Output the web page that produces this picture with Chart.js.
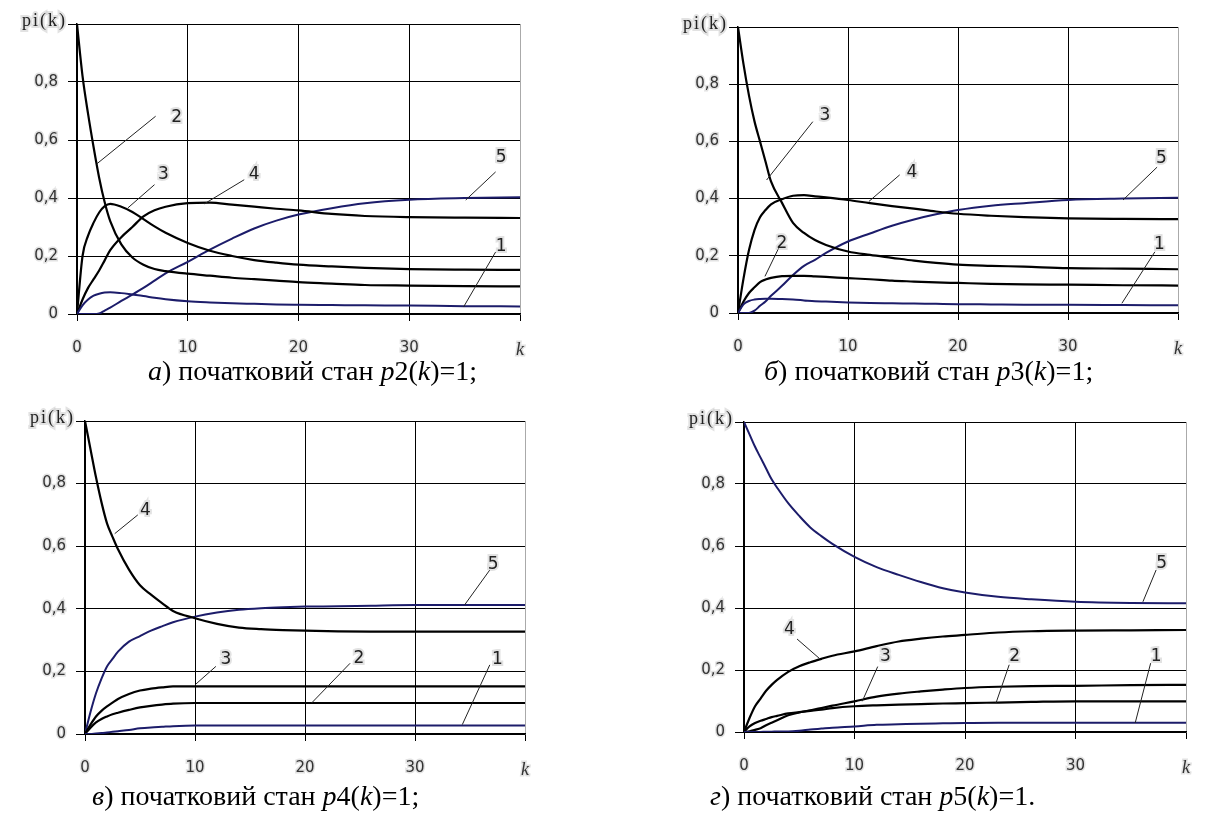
<!DOCTYPE html>
<html>
<head>
<meta charset="utf-8">
<script src="https://cdn.jsdelivr.net/npm/chart.js@4.4.1/dist/chart.umd.min.js"></script>
<style>
  body { margin: 0; background: #fff; width: 1208px; height: 823px; overflow: hidden; position: relative; }
  canvas { position: absolute; }
  .cap { position: absolute; font-family: "Liberation Serif", "Times New Roman", serif; font-size: 28px; line-height: 28px; white-space: nowrap; color: #000; }
  .cap i { font-style: italic; }
</style>
</head>
<body>
<canvas id="ca" width="560" height="365" style="left:0;top:0"></canvas>
<canvas id="cb" width="608" height="365" style="left:600px;top:0"></canvas>
<canvas id="cc" width="560" height="390" style="left:0;top:395px"></canvas>
<canvas id="cd" width="608" height="390" style="left:600px;top:395px"></canvas>

<div class="cap" style="left:148px;top:357px"><i>а</i>) початковий стан <i>p</i>2(<i>k</i>)=1;</div>
<div class="cap" style="left:764px;top:357px"><i>б</i>) початковий стан <i>p</i>3(<i>k</i>)=1;</div>
<div class="cap" style="left:92px;top:782px"><i>в</i>) початковий стан <i>p</i>4(<i>k</i>)=1;</div>
<div class="cap" style="left:710px;top:782px"><i>г</i>) початковий стан <i>p</i>5(<i>k</i>)=1.</div>

<script>
// step k (shared by all four panels)
const K = [0, 0.5, 1, 1.5, 2, 2.5, 3, 4, 5, 6, 7, 8, 10, 12, 14, 16, 18, 20, 23, 26, 30, 35, 40];

// а) p2(0)=1
const aP1 = [0, 0.03, 0.05, 0.063, 0.07, 0.074, 0.075, 0.072, 0.067, 0.062, 0.056, 0.051, 0.044, 0.04, 0.037, 0.035, 0.033, 0.032, 0.031, 0.03, 0.029, 0.027, 0.026];
const aP2 = [1, 0.82, 0.69, 0.575, 0.47, 0.385, 0.32, 0.24, 0.195, 0.17, 0.155, 0.148, 0.139, 0.132, 0.125, 0.12, 0.115, 0.11, 0.105, 0.1, 0.098, 0.096, 0.095];
const aP3 = [0, 0.2, 0.27, 0.315, 0.35, 0.372, 0.38, 0.37, 0.352, 0.327, 0.302, 0.28, 0.245, 0.218, 0.2, 0.186, 0.177, 0.17, 0.164, 0.159, 0.155, 0.153, 0.152];
const aP4 = [0, 0.05, 0.09, 0.12, 0.15, 0.185, 0.22, 0.265, 0.3, 0.337, 0.358, 0.37, 0.382, 0.384, 0.377, 0.37, 0.363, 0.357, 0.345, 0.338, 0.334, 0.332, 0.331];
const aP5 = [0, 0, 0, 0, 0.002, 0.012, 0.022, 0.045, 0.067, 0.09, 0.115, 0.14, 0.18, 0.222, 0.26, 0.295, 0.322, 0.343, 0.365, 0.382, 0.394, 0.4, 0.403];

// б) p3(0)=1
const bP1 = [0, 0.03, 0.042, 0.047, 0.049, 0.05, 0.05, 0.049, 0.047, 0.044, 0.041, 0.04, 0.037, 0.035, 0.034, 0.033, 0.032, 0.031, 0.03, 0.029, 0.029, 0.028, 0.027];
const bP2 = [0, 0.04, 0.07, 0.09, 0.108, 0.117, 0.123, 0.129, 0.13, 0.13, 0.128, 0.126, 0.122, 0.118, 0.113, 0.11, 0.107, 0.105, 0.102, 0.1, 0.099, 0.097, 0.096];
const bP3 = [1, 0.87, 0.76, 0.67, 0.6, 0.53, 0.46, 0.385, 0.315, 0.28, 0.255, 0.238, 0.215, 0.203, 0.193, 0.183, 0.175, 0.169, 0.165, 0.162, 0.157, 0.155, 0.153];
const bP4 = [0, 0.12, 0.22, 0.29, 0.335, 0.36, 0.38, 0.398, 0.41, 0.412, 0.408, 0.404, 0.395, 0.384, 0.374, 0.365, 0.355, 0.347, 0.34, 0.335, 0.331, 0.329, 0.328];
const bP5 = [0, 0, 0, 0.008, 0.025, 0.04, 0.06, 0.095, 0.133, 0.165, 0.186, 0.21, 0.25, 0.278, 0.305, 0.327, 0.345, 0.36, 0.375, 0.384, 0.395, 0.4, 0.403];

// в) p4(0)=1
const cP1 = [0, 0, 0.002, 0.003, 0.005, 0.007, 0.009, 0.013, 0.018, 0.021, 0.023, 0.025, 0.027, 0.027, 0.027, 0.027, 0.027, 0.027, 0.027, 0.027, 0.027, 0.027, 0.027];
const cP2 = [0, 0.02, 0.037, 0.048, 0.056, 0.063, 0.068, 0.077, 0.085, 0.09, 0.094, 0.097, 0.099, 0.099, 0.099, 0.099, 0.099, 0.099, 0.099, 0.099, 0.099, 0.099, 0.099];
const cP3 = [0, 0.03, 0.056, 0.074, 0.088, 0.1, 0.112, 0.128, 0.139, 0.145, 0.149, 0.152, 0.152, 0.152, 0.152, 0.152, 0.152, 0.152, 0.152, 0.152, 0.152, 0.152, 0.152];
const cP4 = [1, 0.91, 0.82, 0.74, 0.673, 0.63, 0.59, 0.525, 0.475, 0.445, 0.418, 0.393, 0.37, 0.352, 0.34, 0.335, 0.332, 0.33, 0.328, 0.327, 0.327, 0.327, 0.327];
const cP5 = [0, 0.07, 0.13, 0.177, 0.216, 0.24, 0.263, 0.295, 0.313, 0.33, 0.344, 0.357, 0.375, 0.388, 0.397, 0.402, 0.405, 0.407, 0.408, 0.41, 0.412, 0.412, 0.412];

// г) p5(0)=1
const dP1 = [0, 0, 0, 0, 0.001, 0.001, 0.002, 0.002, 0.004, 0.008, 0.011, 0.014, 0.018, 0.023, 0.025, 0.027, 0.028, 0.029, 0.03, 0.03, 0.03, 0.03, 0.03];
const dP2 = [0, 0.018, 0.029, 0.036, 0.042, 0.048, 0.052, 0.06, 0.064, 0.068, 0.072, 0.077, 0.083, 0.086, 0.088, 0.09, 0.092, 0.093, 0.095, 0.097, 0.099, 0.099, 0.099];
const dP3 = [0, 0.002, 0.007, 0.012, 0.022, 0.03, 0.038, 0.054, 0.063, 0.07, 0.077, 0.085, 0.099, 0.114, 0.124, 0.131, 0.137, 0.142, 0.146, 0.148, 0.149, 0.151, 0.152];
const dP4 = [0, 0.045, 0.083, 0.108, 0.133, 0.152, 0.168, 0.194, 0.212, 0.225, 0.236, 0.246, 0.26, 0.277, 0.292, 0.301, 0.308, 0.313, 0.321, 0.325, 0.327, 0.328, 0.329];
const dP5 = [1, 0.96, 0.92, 0.885, 0.85, 0.815, 0.788, 0.738, 0.697, 0.66, 0.632, 0.607, 0.565, 0.532, 0.507, 0.484, 0.464, 0.45, 0.436, 0.428, 0.42, 0.416, 0.415];

// curve numbers: [text, k, p of the number, leader from k, p, leader to k, p]
const aNotes = [["2", 9, 0.676, 7.1, 0.682, 1.8, 0.518], ["3", 7.8, 0.48, 7, 0.446, 4.6, 0.366], ["4", 16, 0.48, 15.1, 0.463, 11.5, 0.38], ["5", 38.3, 0.54, 37.8, 0.49, 35.1, 0.393], ["1", 38.3, 0.232, 37.8, 0.214, 34.9, 0.024]];
const bNotes = [["3", 7.9, 0.69, 6.8, 0.669, 2.6, 0.465], ["4", 15.8, 0.49, 14.7, 0.483, 11.9, 0.39], ["5", 38.5, 0.54, 38.1, 0.51, 35, 0.395], ["2", 4, 0.244, 3.7, 0.227, 2.45, 0.128], ["1", 38.3, 0.238, 37.9, 0.214, 34.9, 0.034]];
const cNotes = [["4", 5.5, 0.715, 4.8, 0.7, 2.7, 0.64], ["5", 37.1, 0.54, 36.8, 0.524, 34.5, 0.412], ["3", 12.8, 0.237, 11.9, 0.216, 10, 0.157], ["2", 24.9, 0.242, 24.1, 0.226, 20.6, 0.099], ["1", 37.5, 0.237, 36.8, 0.221, 34.3, 0.03]];
const dNotes = [["5", 37.8, 0.544, 37.3, 0.523, 36.1, 0.42], ["4", 4.1, 0.33, 4.8, 0.3, 6.8, 0.238], ["3", 12.8, 0.244, 12.1, 0.211, 10.7, 0.099], ["2", 24.5, 0.244, 24, 0.217, 22.8, 0.093], ["1", 37.3, 0.244, 36.8, 0.222, 35.4, 0.029]];

const BLUE = "#1c1c6a";
const BLACK = "#000";
const HALO = "rgba(190,190,190,0.45)";

// draws the curve numbers with their leader lines and the pi(k) caption
function notesPlugin(notes) {
  return {
    id: "notes",
    afterDatasetsDraw(chart) {
      const { ctx, chartArea } = chart;
      const x = chart.scales.x, y = chart.scales.y;
      ctx.save();
      ctx.strokeStyle = "#222";
      ctx.lineWidth = 1;
      notes.forEach((n) => {
        ctx.beginPath();
        ctx.moveTo(x.getPixelForValue(n[3]), y.getPixelForValue(n[4]));
        ctx.lineTo(x.getPixelForValue(n[5]), y.getPixelForValue(n[6]));
        ctx.stroke();
      });
      ctx.font = '17px "DejaVu Sans"';
      ctx.textAlign = "center";
      ctx.textBaseline = "middle";
      notes.forEach((n) => {
        const px = x.getPixelForValue(n[1]), py = y.getPixelForValue(n[2]);
        ctx.strokeStyle = HALO;
        ctx.lineWidth = 4;
        ctx.strokeText(n[0], px, py);
        ctx.fillStyle = "#222";
        ctx.fillText(n[0], px, py);
      });
      ctx.font = '18px "Liberation Serif"';
      ctx.letterSpacing = "2px";
      ctx.textAlign = "right";
      ctx.strokeStyle = HALO;
      ctx.lineWidth = 4;
      ctx.strokeText("pi(k)", chartArea.left - 10, chartArea.top - 3);
      ctx.fillStyle = "#222";
      ctx.fillText("pi(k)", chartArea.left - 10, chartArea.top - 3);
      ctx.restore();
    },
  };
}

function makePanel(id, series, notes, g) {
  const datasets = series.map((s, i) => ({
    data: K.map((k, j) => ({ x: k, y: s[j] })),
    borderColor: i === 0 || i === 4 ? BLUE : BLACK,
    borderWidth: i === 0 || i === 4 ? 2 : 2.2,
    pointRadius: 0,
    cubicInterpolationMode: "monotone",
    fill: false,
  }));

  new Chart(document.getElementById(id), {
    type: "line",
    data: { datasets },
    options: {
      responsive: false,
      animation: false,
      devicePixelRatio: 1,
      layout: { padding: { left: 0, top: g.top, right: g.right, bottom: 0 } },
      plugins: { legend: { display: false }, tooltip: { enabled: false } },
      scales: {
        x: {
          type: "linear",
          min: 0,
          max: 40,
          afterFit: (s) => { s.height = g.xh; },
          ticks: {
            stepSize: 10,
            maxRotation: 0,
            padding: 18,
            color: "#333",
            textStrokeColor: HALO,
            textStrokeWidth: 3,
            font: (c) => (c.tick && c.tick.value === 40
              ? { family: "Liberation Serif", style: "italic", size: 18 }
              : { family: "DejaVu Sans", size: 15 }),
            callback: (v) => (v === 40 ? "k" : String(v)),
          },
          grid: {
            color: (c) => (c.tick && c.tick.value === 40 ? "#aaa" : "#000"),
            lineWidth: 1,
            tickLength: 7,
            tickColor: "#000",
          },
          border: { color: "#000", width: 1.5 },
        },
        y: {
          min: 0,
          max: 1,
          afterFit: (s) => { s.width = g.yw; },
          ticks: {
            stepSize: 0.2,
            padding: 10,
            color: "#333",
            textStrokeColor: HALO,
            textStrokeWidth: 3,
            font: { family: "DejaVu Sans", size: 15 },
            callback: (v) => (v === 0 ? "0" : v > 0.99 ? "" : v.toFixed(1).replace(".", ",")),
          },
          grid: { color: "#000", lineWidth: 1, tickLength: 9, tickColor: "#000" },
          border: { color: "#000", width: 1.5 },
        },
      },
    },
    plugins: [notesPlugin(notes)],
  });
}

makePanel("ca", [aP1, aP2, aP3, aP4, aP5], aNotes, { yw: 77, xh: 51, top: 24, right: 40 });
makePanel("cb", [bP1, bP2, bP3, bP4, bP5], bNotes, { yw: 138, xh: 52, top: 27, right: 30 });
makePanel("cc", [cP1, cP2, cP3, cP4, cP5], cNotes, { yw: 85, xh: 51, top: 26, right: 35 });
makePanel("cd", [dP1, dP2, dP3, dP4, dP5], dNotes, { yw: 144, xh: 53, top: 27, right: 9 });
</script>
</body>
</html>
